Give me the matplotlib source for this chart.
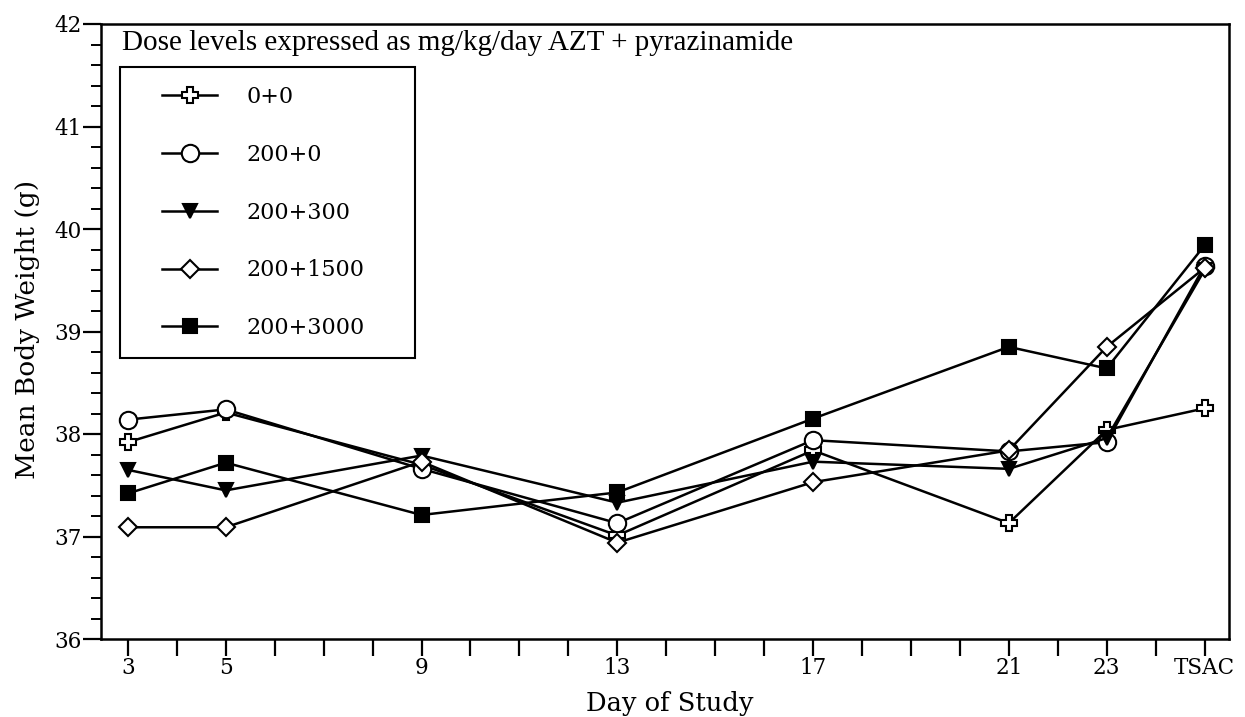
import matplotlib
matplotlib.use("Agg")
import matplotlib.pyplot as plt
from matplotlib.patches import Rectangle

# days of study (TSAC plotted at day 25)
days = [3, 5, 9, 13, 17, 21, 23, 25]
tick_days = [3, 5, 9, 13, 17, 21, 23, 25]
tick_labels = ["3", "5", "9", "13", "17", "21", "23", "TSAC"]

# mean body weight (g) per dose group
w_0_0 = [37.92, 38.21, 37.70, 37.01, 37.84, 37.13, 38.04, 38.25]
w_200_0 = [38.14, 38.24, 37.66, 37.13, 37.94, 37.83, 37.92, 39.64]
w_200_300 = [37.65, 37.45, 37.79, 37.33, 37.73, 37.66, 37.96, 39.60]
w_200_1500 = [37.09, 37.09, 37.73, 36.94, 37.53, 37.84, 38.85, 39.62]
w_200_3000 = [37.42, 37.72, 37.21, 37.43, 38.15, 38.85, 38.64, 39.84]

labels = ["0+0", "200+0", "200+300", "200+1500", "200+3000"]
series = [w_0_0, w_200_0, w_200_300, w_200_1500, w_200_3000]
markers = ["P", "o", "v", "D", "s"]
faces = ["white", "white", "black", "white", "black"]
sizes = [12, 12.5, 10.5, 9, 10.5]

fig = plt.figure(figsize=(12.45, 7.17), dpi=100)
ax = fig.add_axes([101/1245, 1-639/717, 1128/1245, 615/717])

for ys, lab, m, fc, ms in zip(series, labels, markers, faces, sizes):
    ax.plot(days, ys, color="black", lw=1.8, marker=m, markersize=ms,
            markerfacecolor=fc, markeredgecolor="black", markeredgewidth=1.5,
            label=lab)

ax.set_xlim(2.45, 25.5)
ax.set_ylim(36, 42)
ax.set_xticks(tick_days)
ax.set_xticklabels(tick_labels)
ax.set_xticks(range(3, 26), minor=True)
ax.set_yticks(range(36, 43))
ax.set_yticks([36 + i*0.2 for i in range(31)], minor=True)

serif = "DejaVu Serif"
for t in ax.get_xticklabels() + ax.get_yticklabels():
    t.set_family(serif)
    t.set_fontsize(15.5)
ax.tick_params(axis="x", which="both", direction="out", length=12, width=1.6, pad=1)
ax.tick_params(axis="y", which="major", direction="out", length=13, width=1.6, pad=1)
ax.tick_params(axis="y", which="minor", direction="out", length=7, width=1.4)
for s in ax.spines.values():
    s.set_linewidth(1.8)

fig.text(28/1245, 1-329/717, "Mean Body Weight (g)", rotation=90, ha="center",
         va="center", family=serif, fontsize=19)
fig.text(670/1245, 1-703/717, "Day of Study", ha="center", va="center",
         family=serif, fontsize=18.5)

ax.text(0.0186, 0.969, "Dose levels expressed as mg/kg/day AZT + pyrazinamide",
        transform=ax.transAxes, ha="left", va="center",
        family="Liberation Serif", fontsize=21)

ax.add_patch(Rectangle((0.0168, 0.457), 0.2616, 0.473, transform=ax.transAxes,
                       fill=False, edgecolor="black", lw=1.5, zorder=5))
leg = ax.legend(loc="upper left", bbox_to_anchor=(0.054, 0.899), frameon=False,
                borderpad=0, borderaxespad=0, handlelength=2.5,
                handletextpad=1.3, labelspacing=1.61,
                prop={"family": serif, "size": 16})

fig.savefig("out.png", dpi=100)
